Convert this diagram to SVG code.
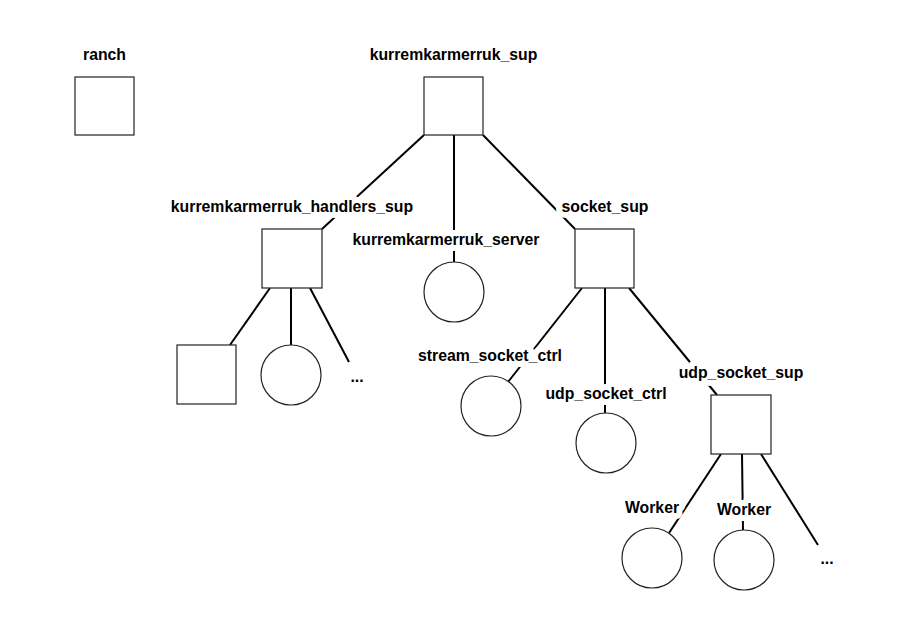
<svg xmlns="http://www.w3.org/2000/svg" width="922" height="642" viewBox="0 0 922 642">
<style>
.bg{fill:#fff}
.sq,.ci{fill:#fff;stroke:#222;stroke-width:1.2}
.e{stroke:#000;stroke-width:2;fill:none}
.t{font-family:"Liberation Sans",Arial,sans-serif;font-weight:bold;font-size:15.8px;fill:#000;text-anchor:middle;stroke:#fff;stroke-width:12;stroke-linejoin:round;paint-order:stroke}
</style>
<rect class="bg" x="0" y="0" width="922" height="642"/>
<g id="connectors">
<line class="e" x1="424" y1="135" x2="322" y2="229"/>
<line class="e" x1="454" y1="135" x2="454" y2="262"/>
<line class="e" x1="483" y1="135" x2="575" y2="229"/>
<line class="e" x1="270" y1="288" x2="230" y2="345"/>
<line class="e" x1="291" y1="288" x2="291" y2="345"/>
<line class="e" x1="310" y1="288" x2="349" y2="362"/>
<line class="e" x1="582" y1="288" x2="508" y2="382"/>
<line class="e" x1="605" y1="288" x2="605" y2="413"/>
<line class="e" x1="629" y1="288" x2="717" y2="395"/>
<line class="e" x1="721" y1="454" x2="669" y2="533"/>
<line class="e" x1="742" y1="454" x2="743" y2="530"/>
<line class="e" x1="761" y1="454" x2="818" y2="545"/>
</g>
<g id="ranch">
<rect class="sq" x="75" y="77" width="59" height="58"/>
<text class="t" x="104.5" y="60">ranch</text>
</g>
<g id="kurremkarmerruk_sup">
<rect class="sq" x="424" y="77" width="59" height="58"/>
<text class="t" x="453.5" y="60">kurremkarmerruk_sup</text>
</g>
<g id="kurremkarmerruk_handlers_sup">
<rect class="sq" x="262" y="229" width="60" height="59"/>
<text class="t" x="292" y="212">kurremkarmerruk_handlers_sup</text>
</g>
<g id="kurremkarmerruk_server">
<circle class="ci" cx="454" cy="292" r="30"/>
<text class="t" x="446" y="245">kurremkarmerruk_server</text>
</g>
<g id="socket_sup">
<rect class="sq" x="575" y="229" width="59" height="59"/>
<text class="t" x="605" y="212">socket_sup</text>
</g>
<g id="handler_child_sup">
<rect class="sq" x="177" y="345" width="59" height="59"/>
</g>
<g id="handler_child_worker">
<circle class="ci" cx="291" cy="375" r="30"/>
</g>
<g id="handler_more">
<text class="t" x="357" y="382">...</text>
</g>
<g id="stream_socket_ctrl">
<circle class="ci" cx="491" cy="406" r="30"/>
<text class="t" x="490" y="361">stream_socket_ctrl</text>
</g>
<g id="udp_socket_ctrl">
<circle class="ci" cx="606" cy="443" r="30"/>
<text class="t" x="606" y="399">udp_socket_ctrl</text>
</g>
<g id="udp_socket_sup">
<rect class="sq" x="711" y="395" width="60" height="59"/>
<text class="t" x="741" y="378">udp_socket_sup</text>
</g>
<g id="worker1">
<circle class="ci" cx="652" cy="558" r="30"/>
<text class="t" x="652" y="513">Worker</text>
</g>
<g id="worker2">
<circle class="ci" cx="744" cy="560" r="30"/>
<text class="t" x="744" y="515">Worker</text>
</g>
<g id="worker_more">
<text class="t" x="827" y="564">...</text>
</g>
</svg>
